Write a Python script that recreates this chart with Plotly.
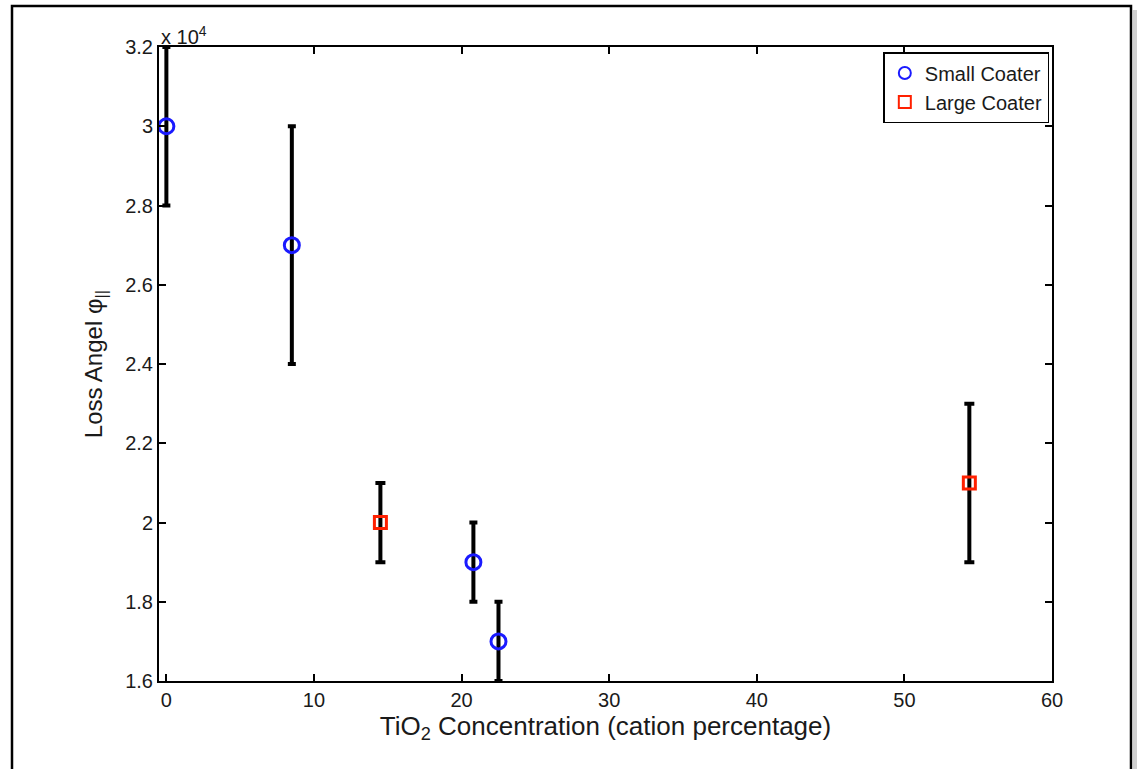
import plotly.graph_objects as go

# Data (loss angle in absolute units; axis shown in x 10^4)
small_x = [0.0, 8.5, 20.8, 22.5]
small_y = [30000, 27000, 19000, 17000]
small_err = [2000, 3000, 1000, 1000]

large_x = [14.5, 54.4]
large_y = [20000, 21000]
large_err = [1000, 2000]

y_tickvals = [16000, 18000, 20000, 22000, 24000, 26000, 28000, 30000, 32000]
y_ticktext = ["1.6", "1.8", "2", "2.2", "2.4", "2.6", "2.8", "3", "3.2"]
x_tickvals = [0, 10, 20, 30, 40, 50, 60]

FONT = "Liberation Sans, Arial, Helvetica, sans-serif"
TXT = "#1a1a1a"

fig = go.Figure()
fig.add_trace(go.Scatter(
    x=small_x, y=small_y, mode="markers", name="Small Coater",
    marker=dict(symbol="circle-open", size=15, color="#1a1aff", line=dict(width=3, color="#1a1aff")),
    error_y=dict(type="data", array=small_err, visible=True, color="black", thickness=4, width=4),
))
fig.add_trace(go.Scatter(
    x=large_x, y=large_y, mode="markers", name="Large Coater",
    marker=dict(symbol="square-open", size=12, color="#ff2000", line=dict(width=3, color="#ff2000")),
    error_y=dict(type="data", array=large_err, visible=True, color="black", thickness=4, width=5),
))

axis_common = dict(
    showline=True, linecolor="black", linewidth=2, mirror="ticks",
    ticks="inside", ticklen=7, tickwidth=1.5, tickcolor="black",
    showgrid=False, zeroline=False,
    tickfont=dict(family=FONT, size=20, color=TXT),
)

fig.update_layout(
    width=1137, height=769,
    paper_bgcolor="white", plot_bgcolor="white",
    margin=dict(l=159, r=85, t=47, b=88),
    font=dict(family=FONT, color=TXT),
    xaxis=dict(range=[-0.5, 60], tickvals=x_tickvals,
               title=dict(text="TiO<sub>2</sub> Concentration (cation percentage)",
                          font=dict(family=FONT, size=26, color=TXT), standoff=0),
               **axis_common),
    yaxis=dict(range=[16000, 32000], tickvals=y_tickvals, ticktext=y_ticktext,
               title=dict(text="Loss Angel φ<sub>||</sub>",
                          font=dict(family=FONT, size=24, color=TXT), standoff=16),
               **axis_common),
    legend=dict(x=0.997, y=0.992, xanchor="right", yanchor="top",
                bgcolor="white", bordercolor="black", borderwidth=1.5,
                font=dict(family=FONT, size=20, color=TXT),
                tracegroupgap=0, itemsizing="constant"),
    showlegend=True,
)

fig.add_annotation(text="x 10<sup>4</sup>", xref="paper", yref="paper", x=0.0, y=1.0,
                   xanchor="left", yanchor="bottom", showarrow=False,
                   font=dict(family=FONT, size=20, color=TXT), yshift=-3)

# outer frame
fig.add_shape(type="rect", xref="paper", yref="paper",
              x0=(12 - 159) / 893, x1=(1131 - 159) / 893,
              y0=(681 - 790) / 634, y1=(681 - 6) / 634,
              line=dict(color="black", width=2.5), layer="below")
fig.add_shape(type="rect", xref="paper", yref="paper",
              x0=(1133 - 159) / 893, x1=(1140 - 159) / 893,
              y0=(681 - 790) / 634, y1=(681 - 10) / 634,
              line=dict(width=0), fillcolor="#cfcfcf", layer="below")

fig.write_html("out.html", config={"displayModeBar": False},
               post_script="document.body.style.margin='0';document.body.style.overflow='hidden';")
